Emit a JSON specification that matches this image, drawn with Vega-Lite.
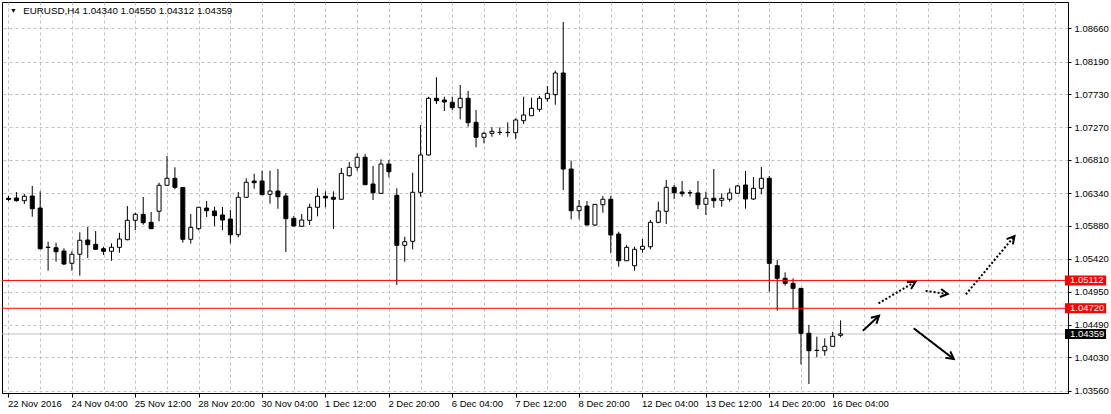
{
  "$schema": "https://vega.github.io/schema/vega-lite/v6.json",
  "width": 1066,
  "height": 391,
  "autosize": {"type": "none"},
  "padding": {"left": 2, "top": 2, "right": 43, "bottom": 21},
  "background": "white",
  "config": {
    "view": {"stroke": "black", "strokeWidth": 1},
    "font": "Liberation Sans",
    "axis": {"labelFont": "Liberation Sans", "labelFontSize": 9.5, "labelColor": "black", "domainColor": "black", "tickColor": "black", "gridColor": "#c0c0c0", "gridDash": [3, 3], "gridWidth": 1, "title": null, "labelOverlap": false}
  },
  "datasets": {
    "candles": [
      {"i":0,"o":1.06268,"h":1.06300,"l":1.06230,"c":1.06251},
      {"i":1,"o":1.06272,"h":1.06356,"l":1.06220,"c":1.06234},
      {"i":2,"o":1.06234,"h":1.06328,"l":1.06187,"c":1.06296},
      {"i":3,"o":1.06300,"h":1.06441,"l":1.06009,"c":1.06121},
      {"i":4,"o":1.06131,"h":1.06366,"l":1.05550,"c":1.05558},
      {"i":5,"o":1.05575,"h":1.05657,"l":1.05249,"c":1.05580},
      {"i":6,"o":1.05572,"h":1.05643,"l":1.05375,"c":1.05516},
      {"i":7,"o":1.05526,"h":1.05564,"l":1.05329,"c":1.05343},
      {"i":8,"o":1.05353,"h":1.05522,"l":1.05249,"c":1.05480},
      {"i":9,"o":1.05480,"h":1.05789,"l":1.05178,"c":1.05677},
      {"i":10,"o":1.05681,"h":1.05864,"l":1.05427,"c":1.05615},
      {"i":11,"o":1.05620,"h":1.05807,"l":1.05545,"c":1.05550},
      {"i":12,"o":1.05558,"h":1.05586,"l":1.05470,"c":1.05522},
      {"i":13,"o":1.05522,"h":1.05634,"l":1.05389,"c":1.05578},
      {"i":14,"o":1.05578,"h":1.05783,"l":1.05502,"c":1.05695},
      {"i":15,"o":1.05685,"h":1.06159,"l":1.05677,"c":1.05958},
      {"i":16,"o":1.05958,"h":1.06065,"l":1.05821,"c":1.06042},
      {"i":17,"o":1.06042,"h":1.06286,"l":1.05896,"c":1.05924},
      {"i":18,"o":1.05930,"h":1.06075,"l":1.05835,"c":1.05840},
      {"i":19,"o":1.06085,"h":1.06487,"l":1.05944,"c":1.06451},
      {"i":20,"o":1.06451,"h":1.06863,"l":1.06445,"c":1.06549},
      {"i":21,"o":1.06549,"h":1.06704,"l":1.06394,"c":1.06422},
      {"i":22,"o":1.06420,"h":1.06425,"l":1.05643,"c":1.05691},
      {"i":23,"o":1.05691,"h":1.06047,"l":1.05629,"c":1.05859},
      {"i":24,"o":1.05840,"h":1.06145,"l":1.05817,"c":1.06141},
      {"i":25,"o":1.06131,"h":1.06230,"l":1.06004,"c":1.06093},
      {"i":26,"o":1.06089,"h":1.06149,"l":1.05878,"c":1.06023},
      {"i":27,"o":1.06033,"h":1.06145,"l":1.05821,"c":1.05962},
      {"i":28,"o":1.05976,"h":1.06103,"l":1.05634,"c":1.05755},
      {"i":29,"o":1.05755,"h":1.06356,"l":1.05719,"c":1.06282},
      {"i":30,"o":1.06282,"h":1.06549,"l":1.06278,"c":1.06493},
      {"i":31,"o":1.06511,"h":1.06614,"l":1.06403,"c":1.06487},
      {"i":32,"o":1.06511,"h":1.06656,"l":1.06314,"c":1.06318},
      {"i":33,"o":1.06324,"h":1.06656,"l":1.06192,"c":1.06370},
      {"i":34,"o":1.06370,"h":1.06680,"l":1.06121,"c":1.06290},
      {"i":35,"o":1.06300,"h":1.06342,"l":1.05512,"c":1.05981},
      {"i":36,"o":1.05986,"h":1.06019,"l":1.05874,"c":1.05878},
      {"i":37,"o":1.05874,"h":1.06047,"l":1.05870,"c":1.05962},
      {"i":38,"o":1.05958,"h":1.06192,"l":1.05892,"c":1.06141},
      {"i":39,"o":1.06141,"h":1.06408,"l":1.06014,"c":1.06296},
      {"i":40,"o":1.06296,"h":1.06366,"l":1.06141,"c":1.06272},
      {"i":41,"o":1.06282,"h":1.06366,"l":1.05836,"c":1.06254},
      {"i":42,"o":1.06254,"h":1.06694,"l":1.06250,"c":1.06619},
      {"i":43,"o":1.06586,"h":1.06778,"l":1.06572,"c":1.06704},
      {"i":44,"o":1.06704,"h":1.06901,"l":1.06656,"c":1.06845},
      {"i":45,"o":1.06845,"h":1.06891,"l":1.06455,"c":1.06459},
      {"i":46,"o":1.06469,"h":1.06722,"l":1.06244,"c":1.06346},
      {"i":47,"o":1.06338,"h":1.06816,"l":1.06334,"c":1.06750},
      {"i":48,"o":1.06750,"h":1.06807,"l":1.06563,"c":1.06642},
      {"i":49,"o":1.06310,"h":1.06408,"l":1.05047,"c":1.05606},
      {"i":50,"o":1.05606,"h":1.05727,"l":1.05375,"c":1.05657},
      {"i":51,"o":1.05662,"h":1.06628,"l":1.05550,"c":1.06352},
      {"i":52,"o":1.06352,"h":1.07299,"l":1.06290,"c":1.06877},
      {"i":53,"o":1.06877,"h":1.07697,"l":1.06870,"c":1.07675},
      {"i":54,"o":1.07675,"h":1.07970,"l":1.07595,"c":1.07641},
      {"i":55,"o":1.07651,"h":1.07697,"l":1.07496,"c":1.07623},
      {"i":56,"o":1.07619,"h":1.07697,"l":1.07510,"c":1.07543},
      {"i":57,"o":1.07543,"h":1.07862,"l":1.07379,"c":1.07675},
      {"i":58,"o":1.07675,"h":1.07778,"l":1.07275,"c":1.07332},
      {"i":59,"o":1.07337,"h":1.07510,"l":1.06985,"c":1.07126},
      {"i":60,"o":1.07126,"h":1.07205,"l":1.07042,"c":1.07182},
      {"i":61,"o":1.07182,"h":1.07267,"l":1.07134,"c":1.07210},
      {"i":62,"o":1.07196,"h":1.07267,"l":1.07158,"c":1.07193},
      {"i":63,"o":1.07193,"h":1.07337,"l":1.07134,"c":1.07196},
      {"i":64,"o":1.07191,"h":1.07393,"l":1.07098,"c":1.07370},
      {"i":65,"o":1.07360,"h":1.07697,"l":1.07313,"c":1.07440},
      {"i":66,"o":1.07430,"h":1.07683,"l":1.07426,"c":1.07534},
      {"i":67,"o":1.07520,"h":1.07707,"l":1.07486,"c":1.07675},
      {"i":68,"o":1.07669,"h":1.07848,"l":1.07627,"c":1.07745},
      {"i":69,"o":1.07726,"h":1.08063,"l":1.07585,"c":1.08031},
      {"i":70,"o":1.08031,"h":1.08749,"l":1.06384,"c":1.06680},
      {"i":71,"o":1.06680,"h":1.06797,"l":1.05972,"c":1.06093},
      {"i":72,"o":1.06093,"h":1.06244,"l":1.05972,"c":1.06155},
      {"i":73,"o":1.06159,"h":1.06230,"l":1.05888,"c":1.05892},
      {"i":74,"o":1.05892,"h":1.06187,"l":1.05878,"c":1.06183},
      {"i":75,"o":1.06178,"h":1.06300,"l":1.06065,"c":1.06254},
      {"i":76,"o":1.06254,"h":1.06300,"l":1.05494,"c":1.05751},
      {"i":77,"o":1.05765,"h":1.05798,"l":1.05305,"c":1.05389},
      {"i":78,"o":1.05389,"h":1.05610,"l":1.05385,"c":1.05578},
      {"i":79,"o":1.05319,"h":1.05586,"l":1.05249,"c":1.05550},
      {"i":80,"o":1.05550,"h":1.05695,"l":1.05502,"c":1.05592},
      {"i":81,"o":1.05586,"h":1.05962,"l":1.05550,"c":1.05930},
      {"i":82,"o":1.05930,"h":1.06220,"l":1.05916,"c":1.06089},
      {"i":83,"o":1.06085,"h":1.06525,"l":1.05906,"c":1.06422},
      {"i":84,"o":1.06422,"h":1.06455,"l":1.06258,"c":1.06346},
      {"i":85,"o":1.06356,"h":1.06511,"l":1.06290,"c":1.06332},
      {"i":86,"o":1.06346,"h":1.06384,"l":1.06290,"c":1.06343},
      {"i":87,"o":1.06342,"h":1.06511,"l":1.06117,"c":1.06178},
      {"i":88,"o":1.06183,"h":1.06360,"l":1.06033,"c":1.06268},
      {"i":89,"o":1.06268,"h":1.06680,"l":1.06135,"c":1.06234},
      {"i":90,"o":1.06239,"h":1.06338,"l":1.06149,"c":1.06268},
      {"i":91,"o":1.06254,"h":1.06408,"l":1.06220,"c":1.06342},
      {"i":92,"o":1.06338,"h":1.06455,"l":1.06334,"c":1.06441},
      {"i":93,"o":1.06455,"h":1.06652,"l":1.06121,"c":1.06258},
      {"i":94,"o":1.06258,"h":1.06567,"l":1.06244,"c":1.06408},
      {"i":95,"o":1.06408,"h":1.06708,"l":1.06324,"c":1.06549},
      {"i":96,"o":1.06549,"h":1.06581,"l":1.04953,"c":1.05353},
      {"i":97,"o":1.05319,"h":1.05399,"l":1.04686,"c":1.05142},
      {"i":98,"o":1.05142,"h":1.05226,"l":1.05038,"c":1.05071},
      {"i":99,"o":1.05071,"h":1.05142,"l":1.04705,"c":1.05001},
      {"i":100,"o":1.05001,"h":1.05005,"l":1.03931,"c":1.04368},
      {"i":101,"o":1.04368,"h":1.04485,"l":1.03654,"c":1.04123},
      {"i":102,"o":1.04129,"h":1.04320,"l":1.04030,"c":1.04126},
      {"i":103,"o":1.04123,"h":1.04297,"l":1.04053,"c":1.04185},
      {"i":104,"o":1.04185,"h":1.04390,"l":1.04179,"c":1.04326},
      {"i":105,"o":1.04340,"h":1.04550,"l":1.04312,"c":1.04359}
    ],
    "levels": [
      {"price": 1.05112, "kind": "level"},
      {"price": 1.04720, "kind": "level"},
      {"price": 1.04359, "kind": "last"}
    ],
    "arrows": [
      {"id": 1, "kind": "main", "ai": 107.81, "ap": 1.04404},
      {"id": 1, "kind": "main", "ai": 109.85, "ap": 1.04615, "head": 47},
      {"id": 2, "kind": "alt", "ai": 109.78, "ap": 1.04790},
      {"id": 2, "kind": "alt", "ai": 114.44, "ap": 1.05094, "head": 60},
      {"id": 3, "kind": "alt", "ai": 115.73, "ap": 1.04963},
      {"id": 3, "kind": "alt", "ai": 118.53, "ap": 1.04921, "head": 98},
      {"id": 4, "kind": "alt", "ai": 120.81, "ap": 1.04916},
      {"id": 4, "kind": "alt", "ai": 126.94, "ap": 1.05737, "head": 40},
      {"id": 5, "kind": "main", "ai": 114.23, "ap": 1.04438},
      {"id": 5, "kind": "main", "ai": 119.28, "ap": 1.04006, "head": 127}
    ]
  },
  "layer": [
    {
      "data": {"name": "levels"},
      "transform": [{"filter": "datum.kind == 'last'"}],
      "mark": {"type": "rule", "color": "#c0c0c0", "strokeWidth": 1},
      "encoding": {
        "y": {"field": "price", "type": "quantitative", "scale": {"domain": [1.03528, 1.0903], "nice": false, "zero": false},
          "axis": {"orient": "right", "values": [1.0356, 1.0403, 1.0449, 1.0495, 1.0542, 1.0588, 1.0634, 1.0681, 1.0727, 1.0773, 1.0819, 1.0866], "tickCount": 50, "format": ".5f", "grid": true, "tickSize": 3, "labelPadding": 3, "labelAlign": "left", "labelOverlap": false, "labelBound": false, "labelFlush": false}}
      }
    },
    {
      "data": {"name": "candles"},
      "mark": {"type": "rule", "color": "black", "strokeWidth": 1, "clip": true},
      "encoding": {
        "x": {"field": "i", "type": "quantitative", "scale": {"domain": [-0.1875, 133.0625], "nice": false, "zero": false},
          "axis": {"orient": "bottom", "values": [0,4,8,12,16,20,24,28,32,36,40,44,48,52,56,60,64,68,72,76,80,84,88,92,96,100,104,108,112,116,120,124,128,132], "tickCount": 100, "grid": true, "tickSize": 4, "labelPadding": 1, "labelAlign": "left", "labelOffset": -1, "labelOverlap": false, "labelFlush": false,
            "tickOpacity": {"condition": {"test": "datum.value % 8 == 0 && datum.value <= 104", "value": 1}, "value": 0},
            "labelExpr": "datum.value % 8 == 0 && datum.value <= 104 ? ['22 Nov 2016','24 Nov 04:00','25 Nov 12:00','28 Nov 20:00','30 Nov 04:00','1 Dec 12:00','2 Dec 20:00','6 Dec 04:00','7 Dec 12:00','8 Dec 20:00','12 Dec 04:00','13 Dec 12:00','14 Dec 20:00','16 Dec 04:00'][datum.value / 8] : ''"}},
        "y": {"field": "l", "type": "quantitative", "scale": {"domain": [1.03528, 1.0903], "nice": false, "zero": false}},
        "y2": {"field": "h"}
      }
    },
    {
      "data": {"name": "candles"},
      "mark": {"type": "bar", "width": 4, "stroke": "black", "strokeWidth": 1, "clip": true, "orient": "vertical"},
      "encoding": {
        "x": {"field": "i", "type": "quantitative", "scale": {"domain": [-0.1875, 133.0625], "nice": false, "zero": false}},
        "y": {"field": "o", "type": "quantitative", "scale": {"domain": [1.03528, 1.0903], "nice": false, "zero": false}},
        "y2": {"field": "c"},
        "fill": {"condition": {"test": "datum.c < datum.o", "value": "black"}, "value": "white"}
      }
    },
    {
      "data": {"name": "levels"},
      "transform": [{"filter": "datum.kind == 'level'"}],
      "mark": {"type": "rule", "color": "#ff0000", "strokeWidth": 1},
      "encoding": {
        "y": {"field": "price", "type": "quantitative", "scale": {"domain": [1.03528, 1.0903], "nice": false, "zero": false}}
      }
    },
    {
      "data": {"name": "levels"},
      "mark": {"type": "rect", "yOffset": -5, "y2Offset": 5},
      "encoding": {
        "x": {"datum": 133.31, "type": "quantitative", "scale": {"domain": [-0.1875, 133.0625], "nice": false, "zero": false}},
        "x2": {"datum": 138.5},
        "y": {"field": "price", "type": "quantitative", "scale": {"domain": [1.03528, 1.0903], "nice": false, "zero": false}},
        "y2": {"field": "price"},
        "fill": {"field": "kind", "type": "nominal", "scale": {"domain": ["level", "last"], "range": ["#ff0000", "#000000"]}, "legend": null}
      }
    },
    {
      "data": {"name": "levels"},
      "mark": {"type": "text", "align": "left", "baseline": "middle", "color": "white", "fontSize": 9.5, "font": "Liberation Sans"},
      "encoding": {
        "x": {"datum": 133.94, "type": "quantitative", "scale": {"domain": [-0.1875, 133.0625], "nice": false, "zero": false}},
        "y": {"field": "price", "type": "quantitative", "scale": {"domain": [1.03528, 1.0903], "nice": false, "zero": false}},
        "text": {"field": "price", "type": "quantitative", "format": ".5f"}
      }
    },
    {
      "data": {"name": "arrows"},
      "mark": {"type": "line", "color": "black", "strokeWidth": 2},
      "encoding": {
        "x": {"field": "ai", "type": "quantitative", "scale": {"domain": [-0.1875, 133.0625], "nice": false, "zero": false}},
        "y": {"field": "ap", "type": "quantitative", "scale": {"domain": [1.03528, 1.0903], "nice": false, "zero": false}},
        "detail": {"field": "id", "type": "nominal"},
        "strokeDash": {"field": "kind", "type": "nominal", "scale": {"domain": ["main", "alt"], "range": [[1, 0], [2, 2]]}, "legend": null}
      }
    },
    {
      "data": {"name": "arrows"},
      "transform": [{"filter": "isValid(datum.head)"}],
      "mark": {"type": "point", "shape": "M-0.55,1L0,0L0.55,1", "filled": false, "stroke": "black", "strokeWidth": 2, "size": 220, "opacity": 1},
      "encoding": {
        "x": {"field": "ai", "type": "quantitative", "scale": {"domain": [-0.1875, 133.0625], "nice": false, "zero": false}},
        "y": {"field": "ap", "type": "quantitative", "scale": {"domain": [1.03528, 1.0903], "nice": false, "zero": false}},
        "angle": {"field": "head", "type": "quantitative", "scale": null}
      }
    },
    {
      "data": {"values": [{"t": "EURUSD,H4  1.04340 1.04550 1.04312 1.04359"}]},
      "mark": {"type": "text", "align": "left", "baseline": "middle", "color": "black", "fontSize": 9.8, "font": "Liberation Sans"},
      "encoding": {
        "x": {"datum": 1.85, "type": "quantitative", "scale": {"domain": [-0.1875, 133.0625], "nice": false, "zero": false}},
        "y": {"datum": 1.08904, "type": "quantitative", "scale": {"domain": [1.03528, 1.0903], "nice": false, "zero": false}},
        "text": {"field": "t", "type": "nominal"}
      }
    },
    {
      "data": {"values": [{"t": "menu"}]},
      "mark": {"type": "point", "shape": "triangle-down", "filled": true, "color": "black", "size": 18, "opacity": 1},
      "encoding": {
        "x": {"datum": 0.625, "type": "quantitative", "scale": {"domain": [-0.1875, 133.0625], "nice": false, "zero": false}},
        "y": {"datum": 1.08904, "type": "quantitative", "scale": {"domain": [1.03528, 1.0903], "nice": false, "zero": false}}
      }
    }
  ]
}
